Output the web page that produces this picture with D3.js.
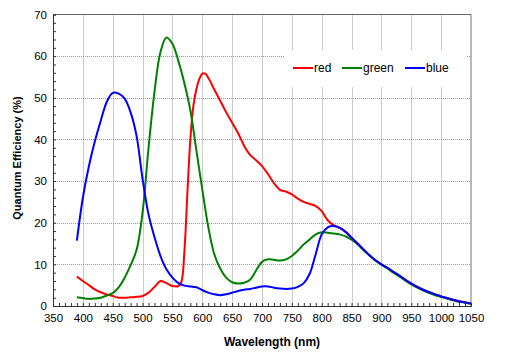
<!DOCTYPE html>
<html>
<head>
<meta charset="utf-8">
<script src="https://d3js.org/d3.v7.min.js"></script>
<style>
  body { margin: 0; background: #fff; }
  text { font-family: "Liberation Sans", Arial, sans-serif; }
</style>
</head>
<body>
<div id="qe"></div>
<script>
// wavelengths (nm) shared by green and blue
const wl = d3.range(390, 1051, 10);

const blueQE = [15.7, 26, 33.5, 39.5, 44.5, 49, 51.2, 51, 49.8, 46.5,
  40.8, 30.5, 22, 16.5, 12, 8.8, 6.8, 5.5, 4.9, 4.7,
  4.5, 3.8, 3.2, 2.8, 2.6, 2.8, 3.2, 3.6, 3.9, 4.1,
  4.4, 4.7, 4.7, 4.4, 4.2, 4.1, 4.2, 4.6, 5.5, 7.8,
  12.5, 17.2, 18.9, 19.2, 18.8, 17.8, 16.4, 15, 13.6, 12.2,
  11, 10, 9.2, 8.2, 7.3, 6.3, 5.4, 4.6, 3.9, 3.3,
  2.8, 2.3, 1.9, 1.5, 1.1, 0.85, 0.6];

const greenQE = [2.1, 1.9, 1.7, 1.8, 2.0, 2.5, 3.1, 4.5, 6.8, 9.8,
  13.5, 22.5, 38, 51.5, 61, 64.5, 63, 58.8, 53.5, 47,
  37.5, 28, 19, 12.5, 9, 6.8, 5.7, 5.4, 5.6, 6.3,
  8.5, 10.6, 11.2, 11.1, 10.9, 11.2, 12, 13.3, 14.8, 16,
  17.2, 17.7, 17.6, 17.4, 17.2, 16.7, 15.9, 14.8, 13.4, 12.1,
  10.9, 9.9, 9.0, 8.0, 7.1, 6.1, 5.2, 4.4, 3.7, 3.1,
  2.6, 2.2, 1.8, 1.4, 1.0, 0.8, 0.55];

// red has a steep edge near 575 nm, so it is sampled finer there
const redWl = [390, 400, 410, 420, 430, 440, 450, 460, 470, 480, 490, 500,
  510, 520, 530, 540, 550, 560, 565, 570, 575, 580, 585, 590, 595, 600, 605,
  610, 620, 630, 640, 650, 660, 670, 680, 690, 700, 710, 720, 730, 740, 750,
  760, 770, 780, 790, 800, 810, 820, 830, 840, 850, 860, 870, 880, 890, 900,
  920, 940, 960, 980, 1000, 1020, 1050];
const redQE = [7.1, 6, 5, 4, 3.3, 2.8, 2.4, 2, 2, 2.1, 2.2, 2.4,
  3.2, 4.6, 6, 5.5, 4.8, 4.8, 5.8, 13, 27, 40, 48, 52, 54.5, 55.8, 55.8,
  54.8, 52, 49.3, 46.5, 44, 41.5, 38.5, 36.3, 35, 33.6, 31.7, 29.5, 27.9, 27.5, 26.8,
  25.8, 25, 24.5, 24, 22.8, 20.6, 19.4, 18.7, 17.8, 16.4, 15, 13.6, 12.2, 11, 10,
  8.2, 6.3, 4.6, 3.3, 2.3, 1.5, 0.6];

const xTicks = d3.range(350, 1051, 50);
const yTicks = d3.range(0, 71, 10);

const series = [
  { name: "red", color: "#ff0000", x: redWl, y: redQE },
  { name: "green", color: "#008000", x: wl, y: greenQE },
  { name: "blue", color: "#0000ff", x: wl, y: blueQE }
];

// set the dimensions of the graph
const width = 506;
const height = 353;
const plot = { left: 53, right: 471, top: 14.5, bottom: 306 };

const svg = d3.select("#qe")
  .append("svg")
    .attr("width", width)
    .attr("height", height);

const x = d3.scaleLinear().domain([350, 1050]).range([plot.left, plot.right]);
const y = d3.scaleLinear().domain([0, 70]).range([plot.bottom, plot.top]);

// dotted grid
const grid = svg.append("g")
  .attr("stroke", "#999")
  .attr("stroke-width", 1)
  .attr("stroke-dasharray", "1,1");

grid.selectAll("line.v")
  .data(xTicks.slice(1, -1))
  .join("line")
    .attr("class", "v")
    .attr("x1", d => Math.round(x(d)) + 0.5)
    .attr("x2", d => Math.round(x(d)) + 0.5)
    .attr("y1", plot.top)
    .attr("y2", plot.bottom);

grid.selectAll("line.h")
  .data(yTicks.slice(1, -1))
  .join("line")
    .attr("class", "h")
    .attr("x1", plot.left)
    .attr("x2", plot.right)
    .attr("y1", d => Math.round(y(d)) + 0.5)
    .attr("y2", d => Math.round(y(d)) + 0.5);

// right frame edge (light grey, a bit thicker)
svg.append("line")
  .attr("x1", plot.right).attr("x2", plot.right)
  .attr("y1", plot.top).attr("y2", plot.bottom + 1)
  .attr("stroke", "#b8b8b8")
  .attr("stroke-width", 2);

// top frame edge
svg.append("line")
  .attr("x1", plot.left).attr("x2", plot.right)
  .attr("y1", plot.top).attr("y2", plot.top)
  .attr("stroke", "#666")
  .attr("stroke-width", 1);

// x axis with minor ticks every 10 nm, pointing up
const xAxis = svg.append("g")
  .attr("transform", `translate(0,${plot.bottom})`)
  .call(d3.axisBottom(x).tickValues(d3.range(350, 1051, 10)).tickSize(-3).tickFormat(""));
xAxis.select(".domain").attr("stroke", "#333");
xAxis.selectAll(".tick line").attr("stroke", "#333");

svg.append("g")
  .attr("transform", `translate(0,${plot.bottom})`)
  .call(d3.axisBottom(x).tickValues(xTicks).tickSize(0).tickPadding(8).tickFormat(d3.format("d")))
  .call(g => g.select(".domain").remove())
  .selectAll("text")
    .attr("font-size", 11.5)
    .attr("fill", "#000");

// y axis with minor ticks every 2 %, pointing right
const yAxis = svg.append("g")
  .attr("transform", `translate(${plot.left},0)`)
  .call(d3.axisLeft(y).tickValues(d3.range(0, 71, 2)).tickSize(-3).tickFormat(""));
yAxis.select(".domain").attr("stroke", "#333");
yAxis.selectAll(".tick line").attr("stroke", "#333");

svg.append("g")
  .attr("transform", `translate(${plot.left},0)`)
  .call(d3.axisLeft(y).tickValues(yTicks).tickSize(0).tickPadding(6))
  .call(g => g.select(".domain").remove())
  .selectAll("text")
    .attr("font-size", 11.5)
    .attr("fill", "#000");

// curves
const line = d3.line()
  .x(d => x(d[0]))
  .y(d => y(d[1]))
  .curve(d3.curveCatmullRom.alpha(0.5));

svg.append("g")
  .selectAll("path")
  .data(series)
  .join("path")
    .attr("d", s => line(s.x.map((v, i) => [v, s.y[i]])))
    .attr("fill", "none")
    .attr("stroke", s => s.color)
    .attr("stroke-width", 2);

// legend
const legend = svg.append("g");
legend.append("rect")
  .attr("x", 284).attr("y", 50)
  .attr("width", 183).attr("height", 37)
  .attr("fill", "#fff");

const legendX = [293, 342, 405];
const item = legend.selectAll("g")
  .data(series)
  .join("g")
    .attr("transform", (d, i) => `translate(${legendX[i]},68)`);
item.append("line")
  .attr("x1", 0).attr("x2", 20)
  .attr("stroke", d => d.color)
  .attr("stroke-width", 2);
item.append("text")
  .attr("x", 21)
  .attr("dy", "0.35em")
  .attr("font-size", 12)
  .text(d => d.name);

// axis titles
svg.append("text")
  .attr("x", 272)
  .attr("y", 346)
  .attr("text-anchor", "middle")
  .attr("font-size", 12)
  .attr("font-weight", "bold")
  .text("Wavelength (nm)");

svg.append("text")
  .attr("transform", "translate(21,158) rotate(-90)")
  .attr("text-anchor", "middle")
  .attr("font-size", 11)
  .attr("font-weight", "bold")
  .text("Quantum Efficiency (%)");
</script>
</body>
</html>
